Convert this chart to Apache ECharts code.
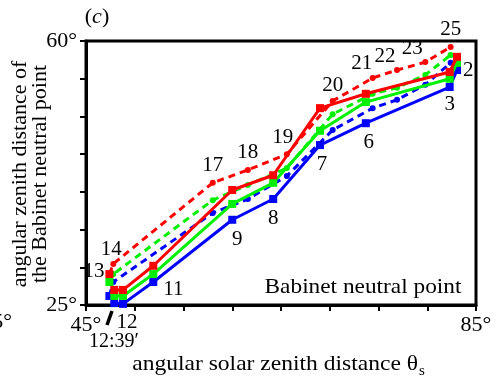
<!DOCTYPE html>
<html>
<head>
<meta charset="utf-8">
<script src="https://cdn.jsdelivr.net/npm/echarts@6/dist/echarts.min.js"></script>
<style>html,body{margin:0;padding:0;background:#fff}#c{width:496px;height:377px}</style>
</head>
<body>
<div id="c"></div>
<script>
// ---- data (degrees) ----
const solidPts   = ['2', '3', '6', '7', '8', '9', '11', '12', ''];
const solidX     = [83.05, 82.3, 73.7, 69.0, 64.2, 60.0, 51.9, 48.8, 47.9];
const redSolid   = [57.9, 55.9, 53.0, 51.1, 42.2, 40.25, 30.2, 27.0, 27.0];
const greenSolid = [57.1, 55.0, 51.9, 48.1, 41.2, 38.4, 29.1, 26.2, 26.2];
const blueSolid  = [56.15, 53.9, 49.1, 46.2, 39.05, 36.3, 28.05, 25.15, 25.25];

const dashedPts   = ['13', '14', '17', '18', '19', '20', '21', '22', '23', '25'];
const dashedX     = [47.4, 47.8, 58.0, 61.6, 65.6, 70.3, 74.4, 76.9, 79.8, 82.4];
const redDashed   = [29.1, 30.45, 41.2, 42.9, 45.0, 52.05, 55.1, 56.15, 57.2, 59.2];
const greenDashed = [28.05, 29.1, 38.9, 40.9, 43.15, 50.3, 53.0, 53.8, 55.5, 58.15];
const blueDashed  = [26.2, 28.05, 37.2, 39.05, 42.1, 48.2, 51.1, 52.2, 54.2, 57.1];

const xMin = 45, xMax = 85, yMin = 25, yMax = 60, step = 5;

// ---- styling ----
const FONT = 'Liberation Serif';
const FS = 22;
const RED = '#ff0000', GREEN = '#00f000', BLUE = '#0000ff';
const labelStyle = {
  '2':  {position: 'right', distance: 2},
  '3':  {position: 'bottom', distance: 3},
  '6':  {position: 'bottom', distance: 5, offset: [3, 0]},
  '7':  {position: 'bottom', distance: 5, offset: [2, 0]},
  '8':  {position: 'bottom', distance: 5},
  '9':  {position: 'bottom', distance: 5, offset: [5, 0]},
  '11': {position: 'right', distance: 6, offset: [0, 7]},
  '12': {position: 'bottom', distance: 4, offset: [4, 0]},
  '13': {position: 'left', distance: 1, offset: [0, -3]},
  '14': {position: 'top', distance: 1, offset: [-2, 0]},
  '17': {position: 'top', distance: 4},
  '18': {position: 'top', distance: 4},
  '19': {position: 'top', distance: 3, offset: [-4, 0]},
  '20': {position: 'top', distance: 2},
  '21': {position: 'top', distance: 1, offset: [-11, 0]},
  '22': {position: 'top', distance: 0, offset: [-12, 0]},
  '23': {position: 'top', distance: 0, offset: [-13, 0]},
  '25': {position: 'top', distance: 4}
};

function build(xs, ys, names, withLabels, dashed) {
  return xs.map((x, i) => {
    const item = {value: [x, ys[i]], name: names[i]};
    if (dashed) {
      item.symbol = (i === 0) ? 'rect' : 'circle';
      item.symbolSize = (i === 0) ? 8 : 6;
    }
    if (withLabels && names[i]) {
      item.label = Object.assign({show: true}, labelStyle[names[i]] || {});
    }
    return item;
  });
}

function series(name, color, xs, ys, names, withLabels, dashed, z) {
  return {
    name: name, type: 'line', clip: false, z: z,
    symbol: dashed ? 'circle' : 'rect',
    symbolSize: dashed ? 6 : 8,
    itemStyle: {color: color},
    lineStyle: {color: color, width: 3, type: dashed ? [7, 5] : 'solid'},
    label: {show: false, color: '#000', fontFamily: FONT, fontSize: 21, formatter: p => p.name},
    emphasis: {disabled: true},
    animation: false,
    data: build(xs, ys, names, withLabels, dashed)
  };
}

const chart = echarts.init(document.getElementById('c'), null, {renderer: 'canvas'});
chart.setOption({
  animation: false,
  grid: {left: 86, top: 41, right: 20, bottom: 72, show: true, borderColor: '#000', borderWidth: 3},
  xAxis: {
    type: 'value', min: xMin, max: xMax, interval: step,
    axisLine: {lineStyle: {color: '#000', width: 3}},
    axisTick: {inside: false, length: 6, lineStyle: {color: '#000', width: 2}},
    splitLine: {show: false},
    axisLabel: {margin: 9, color: '#000', fontFamily: FONT, fontSize: FS,
      formatter: v => (v === xMin || v === xMax) ? v + '°' : ''}
  },
  yAxis: {
    type: 'value', min: yMin, max: yMax, interval: step,
    axisLine: {lineStyle: {color: '#000', width: 3}},
    axisTick: {inside: false, length: 6, lineStyle: {color: '#000', width: 2}},
    splitLine: {show: false},
    axisLabel: {margin: 9, color: '#000', fontFamily: FONT, fontSize: FS,
      formatter: v => (v === yMin || v === yMax) ? v + '°' : ''}
  },
  series: [
    series('blue-dashed', BLUE, dashedX, blueDashed, dashedPts, false, true, 3),
    series('green-dashed', GREEN, dashedX, greenDashed, dashedPts, false, true, 4),
    series('red-dashed', RED, dashedX, redDashed, dashedPts, true, true, 5),
    series('blue', BLUE, solidX, blueSolid, solidPts, true, false, 6),
    series('green', GREEN, solidX, greenSolid, solidPts, false, false, 7),
    series('red', RED, solidX, redSolid, solidPts, false, false, 8)
  ],
  graphic: [
    {type: 'text', x: 97, y: 17, style: {text: '{n|(}{i|c}{n|)}', align: 'center', verticalAlign: 'middle', rich: {
      n: {fontFamily: FONT, fontSize: FS, fill: '#000'},
      i: {fontFamily: FONT, fontSize: FS, fontStyle: 'italic', fill: '#000'}}}},
    {type: 'text', x: 20, y: 174, rotation: Math.PI / 2, style: {text: 'angular zenith distance of',
      fontFamily: FONT, fontSize: FS, fill: '#000', align: 'center', verticalAlign: 'middle'}},
    {type: 'text', x: 40, y: 174, rotation: Math.PI / 2, style: {text: 'the Babinet neutral point',
      fontFamily: FONT, fontSize: FS, fill: '#000', align: 'center', verticalAlign: 'middle'}},
    {type: 'text', x: 418, y: 364, scaleX: 1.07, style: {text: 'angular solar zenith distance θ',
      fontFamily: FONT, fontSize: FS, fill: '#000', align: 'right', verticalAlign: 'middle'}},
    {type: 'text', x: 419, y: 371, style: {text: 's',
      fontFamily: FONT, fontSize: 15, fill: '#000', align: 'left', verticalAlign: 'middle'}},
    {type: 'text', x: 363, y: 287, z: 20, scaleX: 1.06, style: {text: 'Babinet neutral point',
      fontFamily: FONT, fontSize: FS, fill: '#000', align: 'center', verticalAlign: 'middle'}},
    {type: 'text', x: 114, y: 342, style: {text: '12:39′',
      fontFamily: FONT, fontSize: 20, fill: '#000', align: 'center', verticalAlign: 'middle'}},
    {type: 'line', shape: {x1: 107, y1: 325, x2: 112, y2: 311}, style: {stroke: '#000', lineWidth: 3.5}},
    {type: 'text', x: 12, y: 322, style: {text: '85°',
      fontFamily: FONT, fontSize: FS, fill: '#000', align: 'right', verticalAlign: 'middle'}}
  ]
});
</script>
</body>
</html>
